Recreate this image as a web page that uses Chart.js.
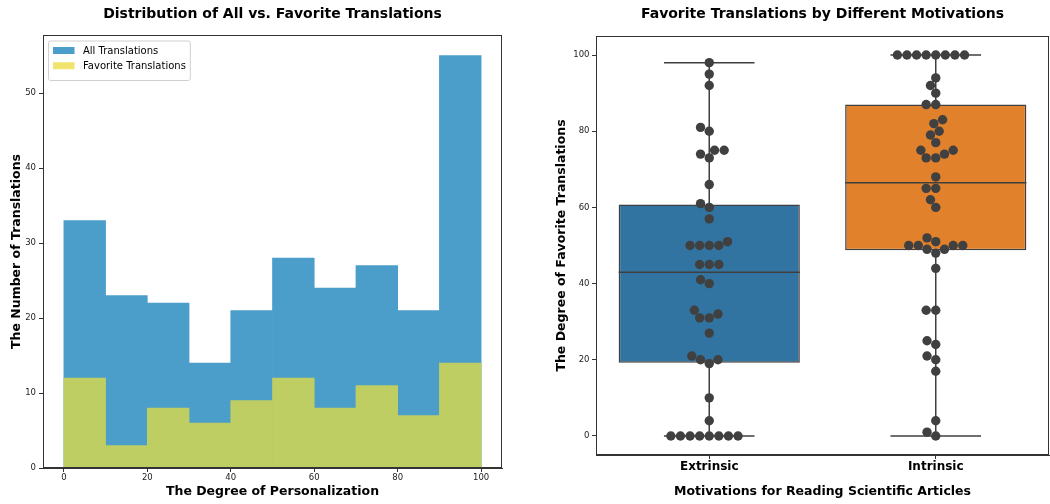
<!DOCTYPE html>
<html>
<head>
<meta charset="utf-8">
<script src="https://cdn.jsdelivr.net/npm/chart.js@4.4.1/dist/chart.umd.min.js"></script>
<style>
  html, body { margin: 0; padding: 0; background: #fff; }
  #wrap { position: relative; width: 1050px; height: 504px; }
  .pane { position: absolute; top: 0; width: 525px; height: 504px; }
</style>
</head>
<body>
<div id="wrap">
  <div class="pane" style="left:0"><canvas id="histChart" width="525" height="504"></canvas></div>
  <div class="pane" style="left:525px"><canvas id="boxChart" width="525" height="504"></canvas></div>
</div>
<script>
// --- left: histogram (bins of 10 from 0 to 100)
const binCenters = [5, 15, 25, 35, 45, 55, 65, 75, 85, 95];
const allCounts = [33, 23, 22, 14, 21, 28, 24, 27, 21, 55];
const favCounts = [12, 3, 8, 6, 9, 12, 8, 11, 7, 14];
const histXTicks = [0, 20, 40, 60, 80, 100];
const histYTicks = [0, 10, 20, 30, 40, 50];

// --- right: box + swarm
const motivations = ['Extrinsic', 'Intrinsic'];
const extrinsicScores = [98, 95, 92, 81, 80, 75, 75, 74, 73, 66, 61, 60, 57, 51, 50, 50, 50, 50,
  45, 45, 45, 41, 40, 33, 32, 31, 31, 27, 21, 20, 20, 19, 10, 4, 0, 0, 0, 0, 0, 0, 0, 0];
const intrinsicScores = [100, 100, 100, 100, 100, 100, 100, 100, 94, 92, 90, 87, 87, 83, 82, 80, 79, 77,
  75, 75, 74, 73, 73, 68, 65, 65, 62, 60, 52, 51, 50, 50, 50, 50, 49, 49, 48, 44,
  33, 33, 25, 24, 21, 20, 17, 4, 1, 0];
const degreeTicks = [0, 20, 40, 60, 80, 100];

Chart.defaults.font.family = '"DejaVu Sans", sans-serif';
Chart.defaults.color = '#222';

const frameAndTitle = {
  id: 'frameAndTitle',
  afterDraw(chart, args, opts) {
    const {ctx, chartArea: a} = chart;
    ctx.save();
    ctx.strokeStyle = '#333';
    ctx.lineWidth = 1;
    ctx.strokeRect(a.left + 0.5, a.top + 0.5, a.right - a.left - 1, a.bottom - a.top - 1);
    ctx.font = 'bold 14px "DejaVu Sans"';
    ctx.fillStyle = '#000';
    ctx.textAlign = 'center';
    ctx.textBaseline = 'middle';
    ctx.fillText(opts.text, (a.left + a.right) / 2, 14);
    ctx.restore();
  }
};

// matplotlib-like legend box inside the axes
const boxLegend = {
  id: 'boxLegend',
  afterDraw(chart, args, opts) {
    if (!opts.show) return;
    const {ctx, chartArea: a} = chart;
    const items = chart.data.datasets.map(ds => ({label: ds.label, color: ds.legendColor}));
    ctx.save();
    ctx.font = '10px "DejaVu Sans"';
    const textW = Math.max(...items.map(it => ctx.measureText(it.label).width));
    const x0 = a.left + 5.5, y0 = a.top + 6;
    const w = 34.5 + textW + 4.5, h = 9 + items.length * 15 + 0.5;
    ctx.beginPath();
    ctx.roundRect(x0, y0, w, h, 2);
    ctx.fillStyle = 'rgba(255,255,255,0.85)';
    ctx.fill();
    ctx.strokeStyle = '#d0d0d0';
    ctx.lineWidth = 1;
    ctx.stroke();
    items.forEach((it, i) => {
      const cy = y0 + 9.5 + i * 15.2;
      ctx.fillStyle = it.color;
      ctx.fillRect(x0 + 4.5, cy - 3.5, 21.5, 7);
      ctx.fillStyle = '#000';
      ctx.textAlign = 'left';
      ctx.textBaseline = 'middle';
      ctx.fillText(it.label, x0 + 34.5, cy + 0.5);
    });
    ctx.restore();
  }
};

function tickAxis(extra) {
  return Object.assign({
    offset: false,
    grid: {display: true, drawOnChartArea: false, drawTicks: true, tickLength: 4, color: '#333', offset: false},
    border: {display: true, color: '#333'},
  }, extra);
}

// ---------------- histogram
const histCtx = document.getElementById('histChart').getContext('2d');
const histChart = new Chart(histCtx, {
  type: 'bar',
  data: {
    datasets: [
      {
        label: 'All Translations',
        data: binCenters.map((x, i) => ({x: x, y: allCounts[i]})),
        backgroundColor: '#4b9dca',
        legendColor: '#4b9dca',
        borderWidth: 0,
        grouped: false,
        barPercentage: 1,
        categoryPercentage: 1,
        order: 2
      },
      {
        label: 'Favorite Translations',
        data: binCenters.map((x, i) => ({x: x, y: favCounts[i]})),
        backgroundColor: '#bfce62',
        legendColor: '#f0e46e',
        borderWidth: 0,
        grouped: false,
        barPercentage: 1,
        categoryPercentage: 1,
        order: 1
      }
    ]
  },
  options: {
    responsive: false,
    animation: false,
    layout: {autoPadding: false, padding: {top: 35, right: 23, left: 0, bottom: 0}},
    plugins: {
      legend: {display: false},
      tooltip: {enabled: false},
      frameAndTitle: {text: 'Distribution of All vs. Favorite Translations'},
      boxLegend: {show: true}
    },
    scales: {
      x: tickAxis({
        type: 'linear', min: -5, max: 105,
        afterBuildTicks: s => { s.ticks = histXTicks.map(v => ({value: v})); },
        afterFit: s => { s.height = 36; },
        ticks: {font: {size: 8.5}, padding: 1, color: '#222'},
        title: {display: true, text: 'The Degree of Personalization', color: '#000',
          font: {size: 12.5, weight: 'bold'}, padding: {top: 0, bottom: 4.5}}
      }),
      y: tickAxis({
        type: 'linear', min: 0, max: 57.75,
        afterBuildTicks: s => { s.ticks = histYTicks.map(v => ({value: v})); },
        afterFit: s => { s.width = 43; },
        ticks: {font: {size: 8.5}, padding: 3, color: '#222'},
        title: {display: true, text: 'The Number of Translations', color: '#000',
          font: {size: 12.5, weight: 'bold'}, padding: {top: 9.5, bottom: 0}}
      })
    }
  },
  plugins: [frameAndTitle, boxLegend]
});

// ---------------- box + swarm
function quantile(sorted, q) {
  const pos = (sorted.length - 1) * q;
  const lo = Math.floor(pos);
  const hi = Math.min(lo + 1, sorted.length - 1);
  return sorted[lo] + (sorted[hi] - sorted[lo]) * (pos - lo);
}

const groups = [extrinsicScores, intrinsicScores];
const stats = groups.map(vals => {
  const s = vals.slice().sort((a, b) => a - b);
  const q1 = quantile(s, 0.25), med = quantile(s, 0.5), q3 = quantile(s, 0.75);
  const iqr = q3 - q1;
  const lo = Math.min(...s.filter(v => v >= q1 - 1.5 * iqr));
  const hi = Math.max(...s.filter(v => v <= q3 + 1.5 * iqr));
  return {q1, med, q3, lo, hi};
});

const boxColors = ['#3274a1', '#e1812c'];
const lineGray = '#3f3f3f';

function segment(points, order) {
  return {
    type: 'line',
    data: points.map(p => ({x: p[0], y: p[1]})),
    borderColor: lineGray,
    borderWidth: 1.5,
    pointRadius: 0,
    fill: false,
    order: order
  };
}

const boxDatasets = [];
boxDatasets.push({
  type: 'bar',
  label: 'box',
  data: stats.map((st, i) => ({x: i, y: [st.q1, st.q3]})),
  backgroundColor: boxColors,
  borderColor: lineGray,
  borderWidth: 1.5,
  borderSkipped: false,
  barPercentage: 0.8,
  categoryPercentage: 1,
  order: 3
});
stats.forEach((st, i) => {
  boxDatasets.push(segment([[i, st.lo], [i, st.q1]], 4));
  boxDatasets.push(segment([[i, st.q3], [i, st.hi]], 4));
  boxDatasets.push(segment([[i - 0.2, st.lo], [i + 0.2, st.lo]], 4));
  boxDatasets.push(segment([[i - 0.2, st.hi], [i + 0.2, st.hi]], 4));
  boxDatasets.push(segment([[i - 0.4, st.med], [i + 0.4, st.med]], 2));
});
groups.forEach(() => {
  boxDatasets.push({
    type: 'scatter',
    data: [],
    backgroundColor: '#404040',
    pointRadius: 4.7,
    pointBorderWidth: 0,
    order: 0
  });
});

const boxCtx = document.getElementById('boxChart').getContext('2d');
const boxChart = new Chart(boxCtx, {
  type: 'bar',
  data: {datasets: boxDatasets},
  options: {
    responsive: false,
    animation: false,
    layout: {autoPadding: false, padding: {top: 36, right: 1, left: 0, bottom: 0}},
    plugins: {
      legend: {display: false},
      tooltip: {enabled: false},
      frameAndTitle: {text: 'Favorite Translations by Different Motivations'}
    },
    scales: {
      x: tickAxis({
        type: 'linear', min: -0.5, max: 1.5,
        afterBuildTicks: s => { s.ticks = motivations.map((m, i) => ({value: i})); },
        afterFit: s => { s.height = 49; },
        ticks: {font: {size: 12, weight: 'bold'}, padding: 1, color: '#000',
          callback: v => motivations[v]},
        title: {display: true, text: 'Motivations for Reading Scientific Articles', color: '#000',
          font: {size: 12.5, weight: 'bold'}, padding: {top: 0, bottom: 4.5}}
      }),
      y: tickAxis({
        type: 'linear', min: -5, max: 105,
        afterBuildTicks: s => { s.ticks = degreeTicks.map(v => ({value: v})); },
        afterFit: s => { s.width = 71; },
        ticks: {font: {size: 8.5}, padding: 2.5, color: '#222'},
        title: {display: true, text: 'The Degree of Favorite Translations', color: '#000',
          font: {size: 12.5, weight: 'bold'}, padding: {top: 29.5, bottom: 0}}
      })
    }
  },
  plugins: [frameAndTitle]
});

// seaborn-style beeswarm, done in pixel space of the chart's own scales
function swarm(values, center, chart, r) {
  const xs = chart.scales.x, ys = chart.scales.y;
  const d = 2 * r;
  const cx = xs.getPixelForValue(center);
  const pts = values.slice().sort((a, b) => a - b).map(v => ({v: v, y: ys.getPixelForValue(v)}));
  const placed = [];
  pts.forEach((p, k) => {
    if (k === 0) { placed.push({v: p.v, y: p.y, x: cx}); return; }
    const nb = [];
    for (let j = placed.length - 1; j >= 0; j--) {
      if (Math.abs(p.y - placed[j].y) < d) nb.unshift(placed[j]); else break;
    }
    const cands = [cx];
    let leftFirst = true;
    nb.forEach(n => {
      const dy = p.y - n.y;
      const dx = Math.sqrt(Math.max(d * d - dy * dy, 0)) * 1.05;
      if (leftFirst) cands.push(n.x - dx, n.x + dx); else cands.push(n.x + dx, n.x - dx);
      leftFirst = !leftFirst;
    });
    const sorted = cands.map((x, i) => ({x, i})).sort((a, b) => {
      const da = Math.round(Math.abs(a.x - cx) * 1e6), db = Math.round(Math.abs(b.x - cx) * 1e6);
      return da - db || a.i - b.i;
    });
    for (const c of sorted) {
      const ok = nb.every(n => (n.x - c.x) ** 2 + (n.y - p.y) ** 2 >= d * d - 1e-6);
      if (ok) { placed.push({v: p.v, y: p.y, x: c.x}); break; }
    }
  });
  return placed.map(p => ({x: xs.getValueForPixel(p.x), y: p.v}));
}

const firstSwarm = boxDatasets.length - groups.length;
groups.forEach((vals, i) => {
  boxChart.data.datasets[firstSwarm + i].data = swarm(vals, i, boxChart, 4.57);
});
boxChart.update('none');
</script>
</body>
</html>
